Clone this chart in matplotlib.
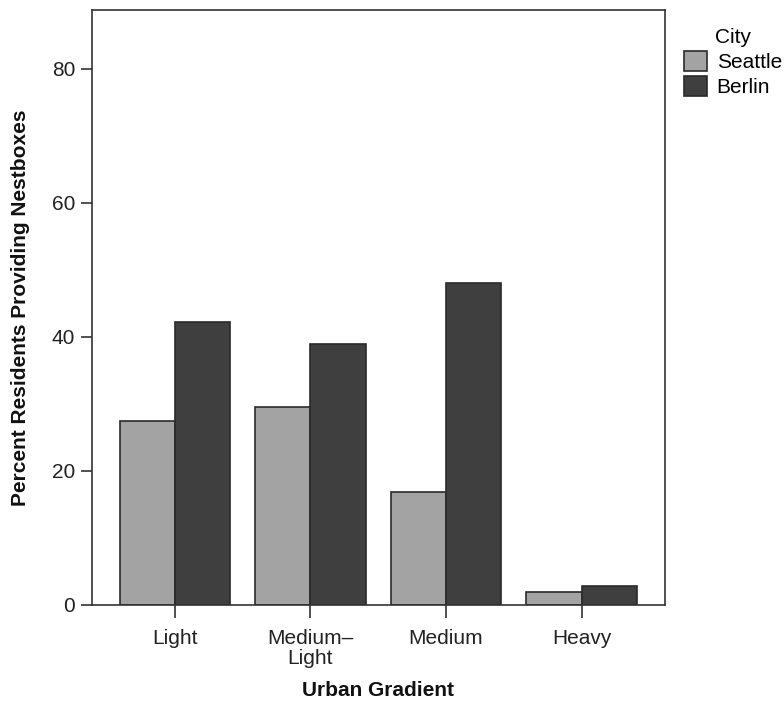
import matplotlib
matplotlib.use("Agg")
import matplotlib.pyplot as plt
import numpy as np

plt.rcParams['font.family'] = ['Liberation Sans', 'DejaVu Sans']

categories = ["Light", "Medium\u2013\nLight", "Medium", "Heavy"]
series_names = ["Seattle", "Berlin"]
seattle = [27.4, 29.6, 16.9, 1.9]
berlin = [42.2, 39.0, 48.0, 2.9]
yticks = [0, 20, 40, 60, 80]

colors = ["#a3a3a3", "#3f3f3f"]
edge = "#2a2a2a"
fs = 15

fig = plt.figure(figsize=(7.84, 7.07), dpi=100)
ax = fig.add_axes([92/784, 1-605/707, (665-92)/784, (605-10)/707])

x = np.arange(len(categories))
w = 0.407
b1 = ax.bar(x - w/2, seattle, w, color=colors[0], edgecolor=edge, linewidth=1.2, label=series_names[0])
b2 = ax.bar(x + w/2, berlin, w, color=colors[1], edgecolor=edge, linewidth=1.2, label=series_names[1])

ax.set_xlim(-0.61, 3.615)
ax.set_ylim(0, 88.8)
ax.set_yticks(yticks)
ax.set_xticks(x)
ax.set_xticklabels(categories, fontsize=fs, color="#222222", linespacing=1.1)
ax.tick_params(axis='y', labelsize=fs, length=8, width=1.2, color="#333333", labelcolor="#222222", pad=4)
ax.tick_params(axis='x', length=9, width=1.2, color="#333333", pad=8)
for s in ax.spines.values():
    s.set_color("#333333")
    s.set_linewidth(1.2)

ax.set_ylabel("Percent Residents Providing Nestboxes", fontsize=fs, fontweight='bold', labelpad=16, color="#111111")
ax.set_xlabel("Urban Gradient", fontsize=fs, fontweight='bold', labelpad=9, color="#111111")

leg = fig.legend(handles=[b1, b2], labels=series_names, title="City",
                 loc='upper left', bbox_to_anchor=(676/784, 1-20/707),
                 bbox_transform=fig.transFigure, frameon=False,
                 fontsize=fs, title_fontsize=fs, handlelength=1.1, handleheight=1.05,
                 handletextpad=0.45, labelspacing=0.2, borderaxespad=0)

plt.savefig("out.png", dpi=100)
